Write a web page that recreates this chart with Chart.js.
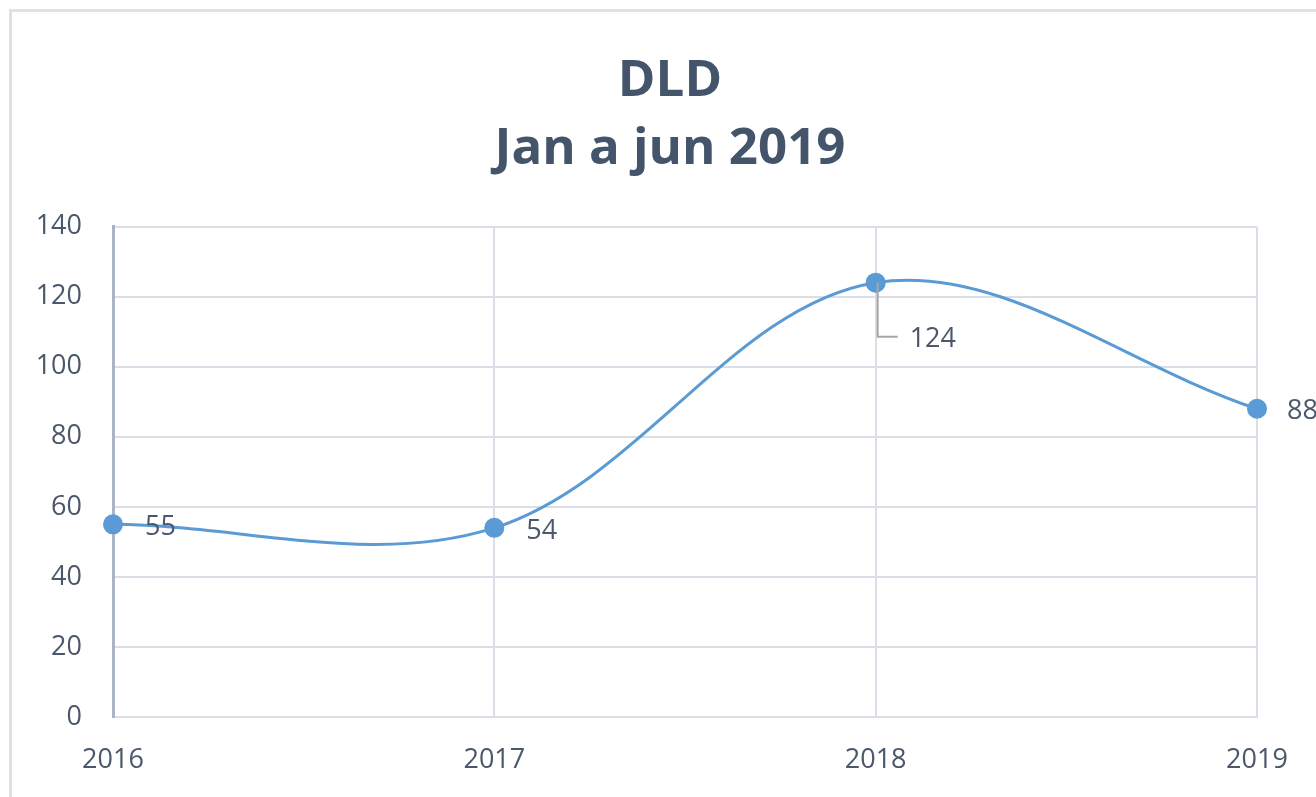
<!DOCTYPE html>
<html>
<head>
<meta charset="utf-8">
<script src="https://cdn.jsdelivr.net/npm/chart.js@4"></script>
<style>
  html, body { margin: 0; padding: 0; background: #fff; overflow: hidden; }
  #wrap { position: relative; width: 1316px; height: 797px; }
</style>
</head>
<body>
<div id="wrap"><canvas id="dldChart"></canvas></div>
<script>
// Données
const years = ['2016', '2017', '2018', '2019'];
const dldValues = [55, 54, 124, 88];
const yTicks = [0, 20, 40, 60, 80, 100, 120, 140];
const titleLines = ['DLD', 'Jan a jun 2019'];

const textColor = '#4B576A';
const gridColor = '#DADFE7';
const lineColor = '#5B9BD5';

// Cadre gris autour du graphique (coupé à droite et en bas comme l'original)
const framePlugin = {
    id: 'frame',
    beforeDraw(chart) {
        const c = chart.ctx;
        c.save();
        c.strokeStyle = '#DDE2EA';
        c.lineWidth = 3;
        c.strokeRect(10.5, 10.5, chart.width + 40, chart.height + 40);
        c.restore();
    }
};

// Étiquettes de valeurs à droite des points
const valueLabels = {
    id: 'valueLabels',
    afterDatasetsDraw(chart, args, opts) {
        const c = chart.ctx;
        const meta = chart.getDatasetMeta(0);
        const data = chart.data.datasets[0].data;
        c.save();
        c.font = '27px "Open Sans"';
        c.fillStyle = textColor;
        c.textAlign = 'left';
        c.textBaseline = 'middle';
        meta.data.forEach((pt, i) => {
            const off = opts.offsets[i] || { dx: 32, dy: 3 };
            const x = pt.x + off.dx;
            const y = pt.y + off.dy;
            if (off.leader) {
                c.strokeStyle = '#A6A6A6';
                c.lineWidth = 2;
                c.beginPath();
                c.moveTo(pt.x + 2, pt.y);
                c.lineTo(pt.x + 2, y - 3);
                c.lineTo(x - 12, y - 3);
                c.stroke();
            }
            c.fillText(String(data[i]), x, y);
        });
        c.restore();
    }
};

const ctx = document.getElementById('dldChart').getContext('2d');

new Chart(ctx, {
    type: 'line',
    data: {
        labels: years,
        datasets: [{
            label: 'DLD',
            data: dldValues,
            borderColor: lineColor,
            backgroundColor: lineColor,
            borderWidth: 3,
            tension: 0.35,
            pointRadius: 10,
            pointBackgroundColor: lineColor,
            pointBorderColor: lineColor,
            pointBorderWidth: 0,
            clip: false
        }]
    },
    options: {
        responsive: true,
        maintainAspectRatio: false,
        animation: false,
        layout: {
            padding: { left: 24, right: 0, top: 0, bottom: 0 }
        },
        scales: {
            x: {
                offset: false,
                grid: {
                    color: gridColor,
                    lineWidth: 2,
                    drawTicks: false
                },
                border: { color: gridColor, width: 2 },
                ticks: {
                    color: textColor,
                    padding: 27,
                    maxRotation: 0,
                    font: { family: '"Open Sans"', size: 27 }
                },
                afterFit(scale) { scale.height = 80; }
            },
            y: {
                min: 0,
                max: 140,
                afterBuildTicks(scale) {
                    scale.ticks = yTicks.map(v => ({ value: v }));
                },
                grid: {
                    color: gridColor,
                    lineWidth: 2,
                    drawTicks: false
                },
                border: { color: '#A9B4C6', width: 3 },
                ticks: {
                    color: textColor,
                    padding: 31,
                    font: { family: '"Open Sans"', size: 27 }
                },
                afterFit(scale) { scale.width = 89; }
            },
            // axe vide à droite pour réserver la marge
            yRight: {
                position: 'right',
                display: true,
                grid: { display: false, drawTicks: false },
                border: { display: false },
                ticks: { display: false },
                afterFit(scale) { scale.width = 59; }
            }
        },
        plugins: {
            legend: { display: false },
            tooltip: { enabled: false },
            title: {
                display: true,
                text: titleLines,
                color: '#44546A',
                font: { family: '"Open Sans"', size: 51, weight: 'bold', lineHeight: 1.32 },
                padding: { top: 48, bottom: 44 }
            },
            valueLabels: {
                offsets: [
                    { dx: 32, dy: 3 },
                    { dx: 32, dy: 3 },
                    { dx: 34, dy: 57, leader: true },
                    { dx: 30, dy: 3 }
                ]
            }
        }
    },
    plugins: [framePlugin, valueLabels]
});
</script>
</body>
</html>
